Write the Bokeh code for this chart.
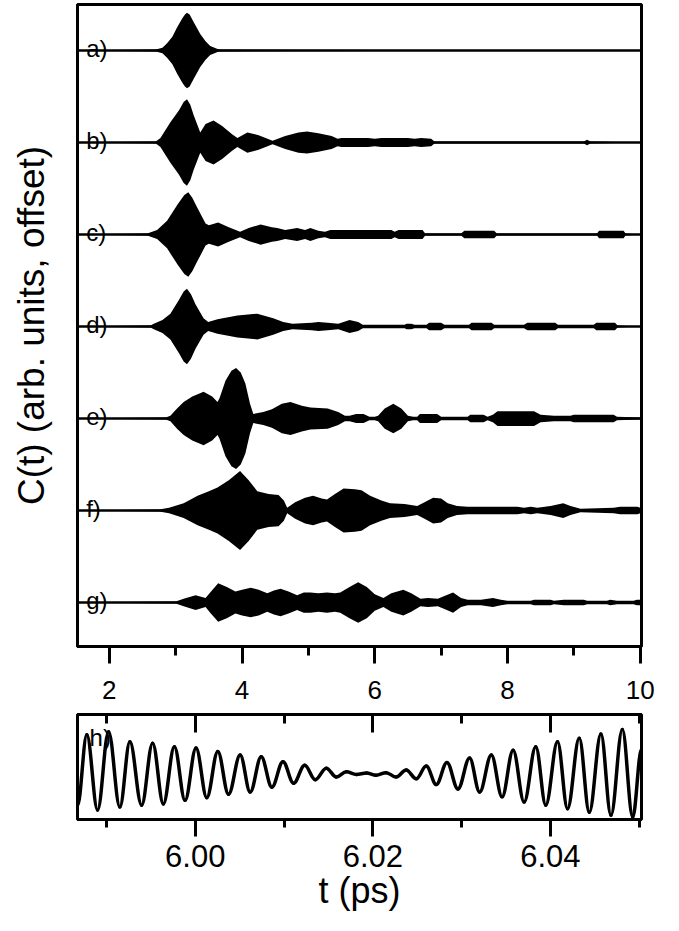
from bokeh.plotting import figure
from bokeh.models import Range1d, FixedTicker, LinearAxis, PrintfTickFormatter
from bokeh.layouts import column
from bokeh.embed import file_html
from bokeh.resources import INLINE
from bokeh.core.properties import value

FONT = "Liberation Sans"

# ---------------- data: upper panel (envelopes, half-amplitude in offset units) -------------
trace_labels = ["a)", "b)", "c)", "d)", "e)", "f)", "g)"]
trace_offsets = [7, 6, 5, 4, 3, 2, 1]

t_a = [1.52, 2.70, 2.80, 2.87, 2.95, 3.02, 3.10, 3.14, 3.17, 3.21, 3.27, 3.37, 3.45, 3.52, 3.65, 10.0]
amp_a = [0, 0.01, 0.03, 0.08, 0.15, 0.25, 0.35, 0.39, 0.41, 0.39, 0.31, 0.18, 0.10, 0.05, 0.01, 0]

t_b = [1.52, 2.70, 2.77, 2.92, 3.05, 3.12, 3.17, 3.22, 3.27, 3.37, 3.45, 3.57, 3.70, 3.85, 3.93,
       4.08, 4.25, 4.46, 4.65, 4.85, 4.98, 5.15, 5.35, 5.44, 5.50, 5.90, 6.00, 6.10, 6.50, 6.60,
       6.70, 6.85, 6.90, 9.15, 9.20, 9.25, 10.0]
amp_b = [0, 0.01, 0.05, 0.22, 0.35, 0.44, 0.47, 0.41, 0.30, 0.11, 0.20, 0.24, 0.18, 0.09, 0.05,
         0.11, 0.08, 0.02, 0.07, 0.11, 0.12, 0.10, 0.07, 0.04, 0.05, 0.05, 0.04, 0.05, 0.05, 0.04,
         0.05, 0.04, 0.01, 0.01, 0.03, 0.01, 0]

t_c = [1.52, 2.57, 2.72, 2.87, 3.03, 3.13, 3.19, 3.25, 3.32, 3.45, 3.50, 3.64, 3.80, 3.97, 4.10,
       4.28, 4.45, 4.53, 4.65, 4.83, 4.95, 5.03, 5.15, 5.25, 5.33, 6.25, 6.30, 6.36, 6.72, 6.76,
       7.30, 7.35, 7.80, 7.84, 9.35, 9.38, 9.75, 9.78, 10.0]
amp_c = [0, 0.01, 0.05, 0.15, 0.33, 0.43, 0.46, 0.40, 0.30, 0.12, 0.10, 0.13, 0.08, 0.03, 0.07,
         0.11, 0.08, 0.07, 0.05, 0.07, 0.05, 0.07, 0.04, 0.03, 0.05, 0.05, 0.03, 0.05, 0.05, 0.01,
         0.01, 0.04, 0.04, 0.01, 0.01, 0.04, 0.04, 0.01, 0]

t_d = [1.52, 2.62, 2.67, 2.80, 2.92, 3.05, 3.12, 3.17, 3.23, 3.30, 3.42, 3.49, 3.63, 3.93, 4.23,
       4.47, 4.62, 4.76, 5.05, 5.15, 5.29, 5.45, 5.62, 5.75, 5.82, 6.45, 6.48, 6.55, 6.60, 6.78,
       6.82, 7.00, 7.05, 7.42, 7.46, 7.76, 7.80, 8.25, 8.30, 8.72, 8.76, 9.30, 9.34, 9.62, 9.66, 10.0]
amp_d = [0, 0.01, 0.03, 0.07, 0.14, 0.29, 0.38, 0.41, 0.35, 0.24, 0.09, 0.05, 0.08, 0.12, 0.14,
         0.09, 0.05, 0.03, 0.04, 0.05, 0.04, 0.03, 0.07, 0.05, 0.02, 0.02, 0.03, 0.03, 0.02, 0.02,
         0.04, 0.04, 0.02, 0.02, 0.04, 0.04, 0.02, 0.02, 0.04, 0.04, 0.02, 0.02, 0.04, 0.04, 0.01, 0]

t_e = [1.52, 2.85, 2.92, 3.02, 3.12, 3.25, 3.42, 3.55, 3.63, 3.66, 3.75, 3.84, 3.91, 3.98, 4.05,
       4.12, 4.17, 4.32, 4.45, 4.60, 4.73, 4.90, 5.03, 5.29, 5.45, 5.55, 5.62, 5.72, 5.83, 5.92,
       6.00, 6.05, 6.15, 6.28, 6.40, 6.50, 6.58, 6.64, 6.68, 6.94, 7.00, 7.40, 7.44, 7.64, 7.70,
       7.78, 7.85, 8.40, 8.50, 8.70, 8.95, 9.00, 9.60, 9.65, 10.0]
amp_e = [0, 0.01, 0.03, 0.11, 0.18, 0.24, 0.29, 0.24, 0.18, 0.22, 0.41, 0.52, 0.55, 0.50, 0.38,
         0.16, 0.05, 0.07, 0.10, 0.16, 0.18, 0.14, 0.12, 0.11, 0.07, 0.03, 0.03, 0.05, 0.05, 0.02,
         0.02, 0.03, 0.11, 0.16, 0.11, 0.03, 0.02, 0.02, 0.05, 0.05, 0.02, 0.02, 0.04, 0.04, 0.02,
         0.04, 0.08, 0.08, 0.04, 0.03, 0.03, 0.04, 0.04, 0.02, 0.01]

t_f = [1.52, 2.75, 2.90, 3.12, 3.33, 3.50, 3.63, 3.80, 3.97, 4.10, 4.23, 4.40, 4.55, 4.63, 4.68,
       4.80, 4.95, 5.07, 5.20, 5.28, 5.40, 5.53, 5.70, 5.80, 5.93, 6.10, 6.23, 6.45, 6.64, 6.75,
       6.88, 7.00, 7.10, 7.24, 7.40, 7.63, 8.15, 8.25, 8.35, 8.45, 8.65, 8.84, 8.95, 9.10, 9.60,
       9.70, 9.96, 10.0]
amp_f = [0, 0.01, 0.03, 0.08, 0.16, 0.21, 0.25, 0.33, 0.43, 0.33, 0.21, 0.18, 0.17, 0.11, 0.03,
         0.09, 0.14, 0.16, 0.13, 0.12, 0.18, 0.24, 0.23, 0.22, 0.16, 0.11, 0.08, 0.07, 0.05, 0.09,
         0.14, 0.13, 0.08, 0.05, 0.04, 0.04, 0.04, 0.03, 0.04, 0.03, 0.05, 0.08, 0.05, 0.02, 0.03,
         0.04, 0.04, 0.03]

t_g = [1.52, 3.00, 3.12, 3.30, 3.45, 3.52, 3.64, 3.77, 3.90, 4.00, 4.13, 4.25, 4.38, 4.48, 4.58,
       4.70, 4.83, 4.93, 5.03, 5.15, 5.28, 5.40, 5.48, 5.62, 5.75, 5.88, 6.00, 6.13, 6.25, 6.43,
       6.55, 6.69, 6.80, 6.95, 7.05, 7.18, 7.30, 7.40, 7.60, 7.78, 7.90, 8.00, 8.35, 8.40, 8.65,
       8.70, 8.85, 9.15, 9.20, 9.50, 9.55, 9.65, 9.90, 9.95, 10.0]
amp_g = [0, 0.01, 0.04, 0.08, 0.05, 0.11, 0.21, 0.17, 0.12, 0.14, 0.16, 0.14, 0.10, 0.13, 0.15,
         0.12, 0.08, 0.11, 0.11, 0.10, 0.11, 0.10, 0.11, 0.17, 0.22, 0.17, 0.09, 0.05, 0.10, 0.14,
         0.10, 0.04, 0.05, 0.04, 0.07, 0.11, 0.05, 0.03, 0.03, 0.05, 0.03, 0.02, 0.02, 0.03, 0.03,
         0.02, 0.03, 0.03, 0.02, 0.02, 0.03, 0.02, 0.02, 0.03, 0.03]

trace_t = [t_a, t_b, t_c, t_d, t_e, t_f, t_g]
trace_amp = [amp_a, amp_b, amp_c, amp_d, amp_e, amp_f, amp_g]

top_major_ticks = [2, 4, 6, 8, 10]
top_minor_ticks = [3, 5, 7, 9]

# ---------------- data: lower panel (h), extrema of the oscillation -------------
h_t = [5.98674, 5.98779, 5.98900, 5.99024, 5.99151, 5.99264, 5.99396, 5.99520, 5.99641, 5.99765,
       5.99885, 6.00009, 6.00130, 6.00254, 6.00375, 6.00506, 6.00619, 6.00743, 6.00863, 6.00988,
       6.01108, 6.01233, 6.01352, 6.01476, 6.01589, 6.01702, 6.01815, 6.01928, 6.02037, 6.02150,
       6.02263, 6.02376, 6.02489, 6.02602, 6.02715, 6.02835, 6.02959, 6.03090, 6.03203, 6.03335,
       6.03456, 6.03580, 6.03704, 6.03835, 6.03948, 6.04080, 6.04193, 6.04325, 6.04438, 6.04569,
       6.04682, 6.04810, 6.04927, 6.05026]
h_y = [-0.73, 0.88, -0.83, 0.95, -0.76, 0.72, -0.72, 0.69, -0.69, 0.61,
       -0.61, 0.58, -0.55, 0.50, -0.47, 0.42, -0.42, 0.38, -0.31, 0.27,
       -0.22, 0.19, -0.14, 0.12, -0.08, 0.04, -0.02, 0.01, -0.04, 0.02,
       -0.08, 0.08, -0.12, 0.17, -0.25, 0.25, -0.35, 0.35, -0.42, 0.42,
       -0.53, 0.53, -0.65, 0.61, -0.72, 0.72, -0.80, 0.80, -0.88, 0.90,
       -0.95, 1.00, -0.99, 0.55]
h_label = "h)"
h_label_pos = (5.9881, 0.82)

bottom_major_ticks = [6.00, 6.02, 6.04]
bottom_minor_ticks = [5.99, 6.01, 6.03, 6.05]

label_t = 1.65

# ---------------- upper figure -------------
p1 = figure(width=668, height=711, x_range=Range1d(1.52, 10.02), y_range=Range1d(0.522, 7.5),
            output_backend="svg", toolbar_location=None,
            min_border_left=77, min_border_right=27, min_border_top=4, min_border_bottom=65)
p1.grid.visible = False
p1.outline_line_color = "black"
p1.outline_line_width = 3
p1.outline_line_alpha = 1.0

xa = p1.xaxis[0]
xa.ticker = FixedTicker(ticks=top_major_ticks, minor_ticks=top_minor_ticks)
xa.axis_line_width = 3
xa.major_tick_line_width = 3
xa.minor_tick_line_width = 3
xa.major_tick_out = 17
xa.major_tick_in = 0
xa.minor_tick_out = 9
xa.minor_tick_in = 0
xa.major_label_text_font = FONT
xa.major_label_text_font_size = "26px"
xa.major_label_text_color = "black"
xa.major_label_standoff = 17

ya = p1.yaxis[0]
ya.ticker = FixedTicker(ticks=[], minor_ticks=[])
ya.axis_line_width = 3
ya.major_tick_out = 0
ya.major_tick_in = 0
ya.minor_tick_out = 0
ya.minor_tick_in = 0
ya.major_label_text_color = None
ya.axis_label = "C(t) (arb. units, offset)"
ya.axis_label_text_font = FONT
ya.axis_label_text_font_size = "37px"
ya.axis_label_text_font_style = "normal"
ya.axis_label_text_color = "black"
ya.axis_label_standoff = 26

for lab, off, tt, aa in zip(trace_labels, trace_offsets, trace_t, trace_amp):
    lo = [off - a for a in aa]
    hi = [off + a for a in aa]
    p1.varea(x=tt, y1=lo, y2=hi, fill_color="black", fill_alpha=1.0)
    p1.line(x=tt, y=[off] * len(tt), line_color="black", line_width=2.5)
    p1.text(x=[label_t], y=[off + 0.02], text=[lab], text_font=value(FONT),
            text_font_size="24px", text_baseline="alphabetic", text_align="left",
            text_color="black")

# ---------------- lower figure -------------
p2 = figure(width=668, height=212, x_range=Range1d(5.98674, 6.05026), y_range=Range1d(-1.045, 1.341),
            output_backend="svg", toolbar_location=None,
            min_border_left=77, min_border_right=27, min_border_top=3, min_border_bottom=104)
p2.grid.visible = False
p2.yaxis.visible = False
p2.outline_line_color = "black"
p2.outline_line_width = 3
p2.outline_line_alpha = 1.0

tick2 = FixedTicker(ticks=bottom_major_ticks, minor_ticks=bottom_minor_ticks)
xb = p2.xaxis[0]
xb.ticker = tick2
xb.formatter = PrintfTickFormatter(format="%.2f")
xb.axis_line_width = 3
xb.major_tick_line_width = 3
xb.minor_tick_line_width = 3
xb.major_tick_out = 17
xb.major_tick_in = 0
xb.minor_tick_out = 8
xb.minor_tick_in = 0
xb.major_label_text_font = FONT
xb.major_label_text_font_size = "31px"
xb.major_label_text_color = "black"
xb.major_label_standoff = 8
xb.axis_label = "t (ps)"
xb.axis_label_text_font = FONT
xb.axis_label_text_font_size = "36px"
xb.axis_label_text_font_style = "normal"
xb.axis_label_text_color = "black"
xb.axis_label_standoff = 0

top_ax = LinearAxis(ticker=tick2, major_tick_in=18, major_tick_out=0, minor_tick_in=9,
                    minor_tick_out=0, major_tick_line_width=3, minor_tick_line_width=3,
                    axis_line_width=3, major_label_text_color=None,
                    major_label_text_font_size="1px", major_label_standoff=0)
p2.add_layout(top_ax, "above")

p2.text(x=[h_label_pos[0]], y=[h_label_pos[1]], text=[h_label], text_font=value(FONT),
        text_font_size="24px", text_baseline="alphabetic", text_align="left", text_color="black")

# smooth sine-like curve between successive extrema (horizontal tangents at the extrema)
K = 0.3642
x0 = h_t[:-1]
x1 = h_t[1:]
y0 = h_y[:-1]
y1 = h_y[1:]
cx0 = [a + K * (b - a) for a, b in zip(x0, x1)]
cx1 = [b - K * (b - a) for a, b in zip(x0, x1)]
p2.bezier(x0=x0, y0=y0, x1=x1, y1=y1, cx0=cx0, cy0=y0, cx1=cx1, cy1=y1,
          line_color="black", line_width=3.5, line_cap="round")

layout = column(p1, p2, spacing=0)
open("out.html", "w").write(file_html(layout, INLINE))
